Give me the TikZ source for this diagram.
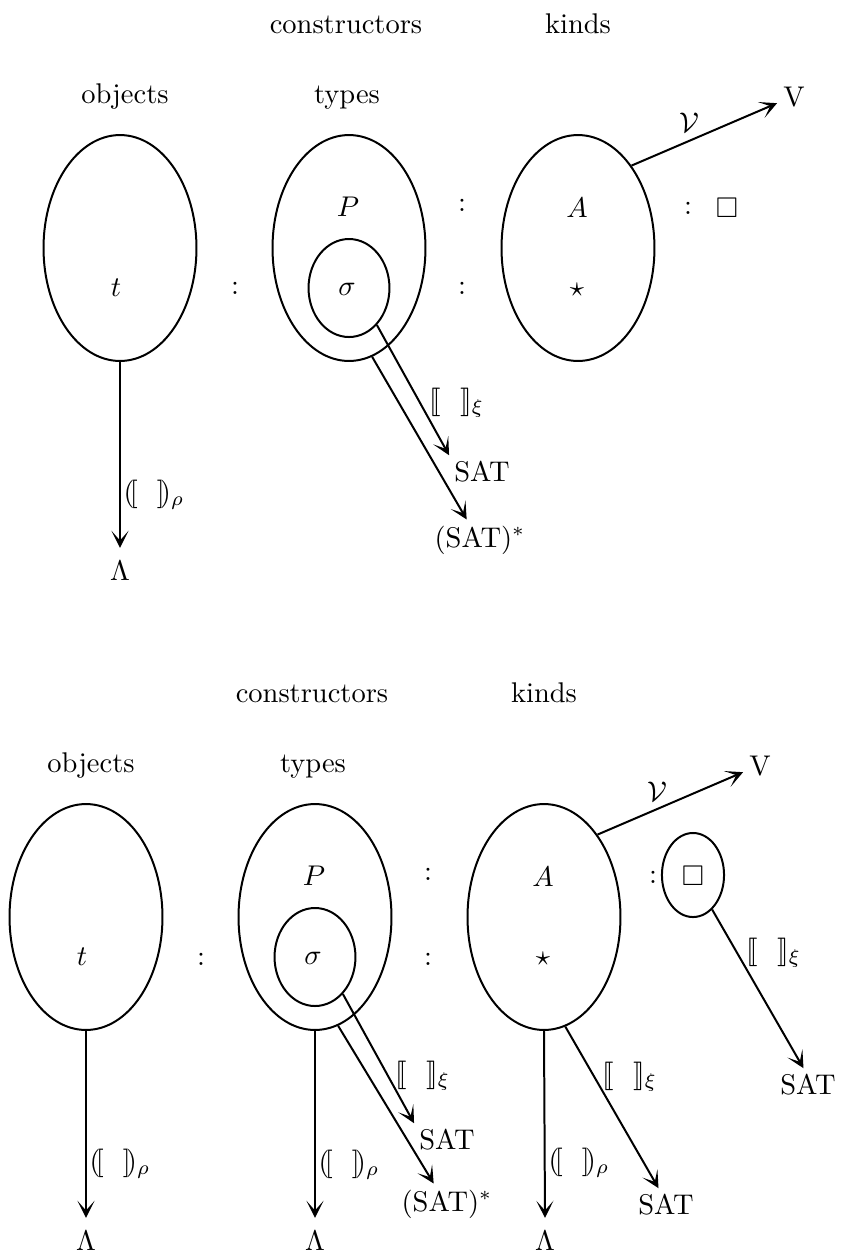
\documentclass[tikz,border=0pt]{standalone}
\usepackage{amsmath}
\usepackage{amssymb}
\usepackage{stmaryrd}
\usepackage{tikz}
\usetikzlibrary{shapes.geometric,arrows.meta}

\newcommand{\semxi}{$\llbracket\ \ \rrbracket_\xi$}
\newcommand{\semrho}{$(\![\ \ ]\!)_\rho$}

\tikzset{
  levelset/.style={ellipse, draw, line width=0.7pt, inner sep=0pt, minimum width=53.7pt, minimum height=79.3pt},
  innerset/.style={ellipse, draw, line width=0.7pt, inner sep=0pt, minimum width=28.4pt, minimum height=34.4pt},
  boxset/.style={ellipse, draw, line width=0.7pt, inner sep=0pt, minimum width=21.8pt, minimum height=29.5pt},
  target/.style={inner sep=2pt},
  lambda/.style={inner sep=4.5pt},
  map/.style={line width=0.7pt, -{Stealth[length=6pt,width=6pt,inset=3.4pt]}}
}

\begin{document}
\begin{tikzpicture}[x=0.351pt, y=-0.351pt]
\useasboundingbox (0,0) rectangle (842,1259);

% upper diagram
\node[anchor=base] (consA) at (346,33) {constructors};
\node[anchor=base] (kindsA) at (578,33) {kinds};
\node[anchor=base] (objA) at (125,103) {objects};
\node[anchor=base] (typesA) at (347,103) {types};

\node[levelset] (objsetA) at (120,248) {};
\node[levelset] (typesetA) at (349,248) {};
\node[levelset] (kindsetA) at (578,248) {};
\node[innerset] (sigsetA) at (349,288) {};

\node (tA) at (116,288) {$t$};
\node (colA1) at (235,288) {:};
\node (PA) at (348,207) {$P$};
\node (sigA) at (347,289) {$\sigma$};
\node (colA2) at (462,205) {:};
\node (colA3) at (462,288) {:};
\node (AA) at (577,208) {$A$};
\node (starA) at (577,290) {$\star$};
\node (colA4) at (688,208) {:};
\node (boxA) at (727,208) {$\Box$};

\node[target] (vA) at (794,97) {V};
\node[lambda] (lamA) at (120,571) {$\Lambda$};
\node[target] (satA) at (482,472) {SAT};
\node[target] (satstarA) at (480,540) {(SAT)$^*$};

\draw[map] (objsetA.south) -- (lamA.north);
\draw[map] (sigsetA.-53) -- (satA.153);
\draw[map] (typesetA.-78) -- (satstarA.123);
\draw[map] (kindsetA.57) -- (vA.200);

\node (calvA) at (689,123) {$\mathcal{V}$};
\node (rhoA) at (154,495) {\semrho};
\node (xiA) at (457,403) {\semxi};

% lower diagram
\begin{scope}[shift={(-34,669)}]
\node[anchor=base] (consB) at (346,33) {constructors};
\node[anchor=base] (kindsB) at (578,33) {kinds};
\node[anchor=base] (objB) at (125,103) {objects};
\node[anchor=base] (typesB) at (347,103) {types};

\node[levelset] (objsetB) at (120,248) {};
\node[levelset] (typesetB) at (349,248) {};
\node[levelset] (kindsetB) at (578,248) {};
\node[innerset] (sigsetB) at (349,288) {};
\node[boxset] (boxsetB) at (727,206) {};

\node (tB) at (116,288) {$t$};
\node (colB1) at (235,290) {:};
\node (PB) at (348,207) {$P$};
\node (sigB) at (347,289) {$\sigma$};
\node (colB2) at (462,205) {:};
\node (colB3) at (462,290) {:};
\node (AB) at (577,208) {$A$};
\node (starB) at (577,290) {$\star$};
\node (colB4) at (687,208) {:};
\node (boxB) at (727,207) {$\Box$};

\node[target] (vB) at (794,97) {V};
\node[lambda] (lamB1) at (120,572) {$\Lambda$};
\node[lambda] (lamB2) at (349,572) {$\Lambda$};
\node[lambda] (lamB3) at (579,572) {$\Lambda$};
\node[target] (satB) at (481,471) {SAT};
\node[target] (satstarB) at (481,535) {(SAT)$^*$};
\node[target] (satK) at (700,536) {SAT};
\node[target] (satC) at (842,416) {SAT};

\draw[map] (objsetB.south) -- (lamB1.north);
\draw[map] (typesetB.south) -- (lamB2.north);
\draw[map] (kindsetB.south) -- (lamB3.north);
\draw[map] (sigsetB.-53) -- (satB.153);
\draw[map] (typesetB.-78) -- (satstarB.123);
\draw[map] (kindsetB.-79) -- (satK.114);
\draw[map] (boxsetB.-61) -- (satC.105);
\draw[map] (kindsetB.57) -- (vB.200);

\node (calvB) at (691,123) {$\mathcal{V}$};
\node (rhoB1) at (154,495) {\semrho};
\node (rhoB2) at (383,496) {\semrho};
\node (rhoB3) at (613,494) {\semrho};
\node (xiB1) at (457,407) {\semxi};
\node (xiB2) at (664,408) {\semxi};
\node (xiB3) at (808,284) {\semxi};
\end{scope}
\end{tikzpicture}
\end{document}
